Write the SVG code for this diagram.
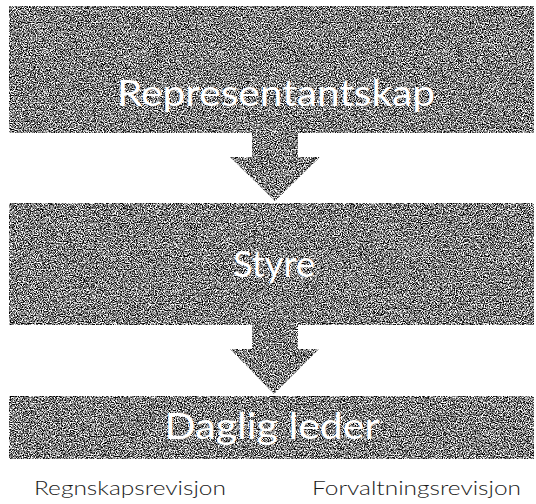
<svg xmlns="http://www.w3.org/2000/svg" width="536" height="504" viewBox="0 0 536 504">
  <defs>
    <filter id="grain" filterUnits="userSpaceOnUse" x="0" y="0" width="536" height="504" color-interpolation-filters="sRGB">
      <feTurbulence type="fractalNoise" baseFrequency="0.85" numOctaves="3" seed="7" result="t"/>
      <feColorMatrix in="t" type="matrix" values="2.9 0 0 0 -0.95  2.9 0 0 0 -0.95  2.9 0 0 0 -0.95  0 0 0 0 1" result="g"/>
      <feComposite in="g" in2="SourceAlpha" operator="in"/>
    </filter>
    <style>
      .tex { fill: #7a7a7a; filter: url(#grain); }
      .big { font-family: Lato, "Open Sans", "Liberation Sans", sans-serif; font-weight: 400; fill: #ffffff; text-anchor: middle; }
      .lab { font-family: Lato, "Open Sans", "Liberation Sans", sans-serif; font-weight: 300; fill: #1a1a1a; font-size: 19px; }
    </style>
  </defs>
  <rect width="536" height="504" fill="#ffffff"/>
  <g id="connectors">
    <polygon class="tex" points="252,132 298,132 298,157 320,157 275,201 230,157 252,157"/>
    <polygon class="tex" points="252,324 298,324 298,349 319,349 274,394 230,349 252,349"/>
  </g>
  <g id="representantskap">
    <rect class="tex" x="9" y="6" width="525" height="127"/>
    <text class="big" x="276" y="106" font-size="37" textLength="318" lengthAdjust="spacingAndGlyphs">Representantskap</text>
  </g>
  <g id="styre">
    <rect class="tex" x="9" y="203" width="525" height="122"/>
    <text class="big" x="274" y="277" font-size="37" textLength="82" lengthAdjust="spacingAndGlyphs">Styre</text>
  </g>
  <g id="daglig-leder">
    <rect class="tex" x="9" y="396" width="525" height="63"/>
    <text class="big" x="272" y="439" font-size="37" textLength="215" lengthAdjust="spacingAndGlyphs">Daglig leder</text>
  </g>
  <g id="labels">
    <text class="lab" x="34" y="495" textLength="192" lengthAdjust="spacingAndGlyphs">Regnskapsrevisjon</text>
    <text class="lab" x="312" y="495" textLength="209" lengthAdjust="spacingAndGlyphs">Forvaltningsrevisjon</text>
  </g>
</svg>
